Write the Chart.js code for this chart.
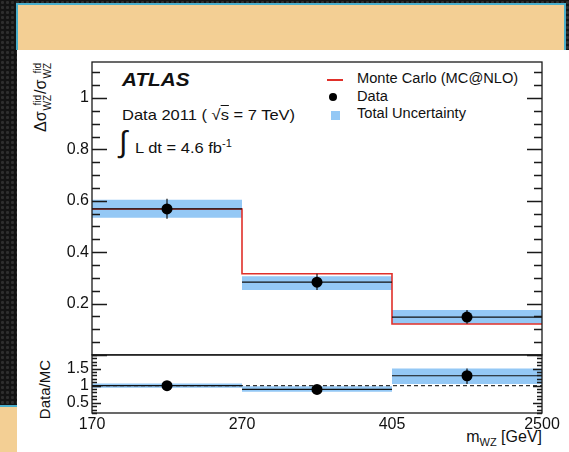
<!DOCTYPE html>
<html>
<head>
<meta charset="utf-8">
<script src="https://cdn.jsdelivr.net/npm/chart.js@4.4.1/dist/chart.umd.min.js"></script>
<style>
  html, body { margin: 0; padding: 0; }
  body {
    width: 569px; height: 452px; position: relative; overflow: hidden;
    background-color: #131313;
    background-image: radial-gradient(circle at 50% 50%, #2e2e2e 0 1.2px, transparent 1.9px);
    background-size: 5px 5px;
    font-family: 'Liberation Sans', Arial, sans-serif; color: #111;
  }
  .banner { position: absolute; left: 16px; top: 3px; width: 546px; height: 45px;
    background: #f3cf94; border: 2px solid #4aaecb; border-bottom: none; }
  .sheet { position: absolute; left: 17px; top: 50px; right: 0; bottom: 0; background: #fff; }
  .corner { position: absolute; left: 0; top: 405px; width: 17px; bottom: 0;
    background: #f3cf94; border-top: 2px solid #4aaecb; }
  #plot { position: absolute; left: 0; top: 0; }
  .txt { position: absolute; white-space: nowrap; line-height: 1; transform-origin: 0 50%; }
  .atlas { font-weight: bold; font-style: italic; font-size: 19px; left: 122px; top: 70px;
    transform: scaleX(1.09); }
  .info { font-size: 15px; transform: scaleX(1.1); }
  .rad { text-decoration: overline; }
  .integral { font-size: 30px; left: 119px; top: 127px; }
  sup { font-size: 10px; vertical-align: 6px; }
  .leg { font-size: 14px; left: 357px; transform: scaleX(1.045); }
  .sym { position: absolute; }
  .rot { position: absolute; white-space: nowrap; line-height: 1; transform-origin: 0 0;
    transform: rotate(-90deg); text-align: right; }
  .ss { display: inline-flex; flex-direction: column; font-size: 10px; line-height: 10px;
    vertical-align: 5px; margin: 0 1px; }
  .xtitle { font-size: 16px; right: 27px; top: 429px; }
  .xtitle sub { font-size: 11px; vertical-align: -4px; }
</style>
</head>
<body>
<div class="banner"></div>
<div class="sheet"></div>
<div class="corner"></div>

<div class="txt atlas">ATLAS</div>
<div class="txt info" style="left:122px; top:107px;">Data 2011 ( √<span class="rad">s</span> = 7 TeV)</div>
<div class="txt integral">∫</div>
<div class="txt info" style="left:135px; top:139px;">L dt = 4.6 fb<sup>-1</sup></div>

<div class="sym" style="left:327px; top:79px; width:16px; height:2px; background:#e0302a;"></div>
<div class="txt leg" style="top:71px;">Monte Carlo (MC@NLO)</div>
<div class="sym" style="left:329px; top:93px; width:8px; height:8px; border-radius:50%; background:#000;"></div>
<div class="txt leg" style="top:89px;">Data</div>
<div class="sym" style="left:331px; top:111px; width:9px; height:9px; background:#94c8f5;"></div>
<div class="txt leg" style="top:106px;">Total Uncertainty</div>

<div class="rot" style="left:33px; top:202px; width:140px; font-size:16px;">Δσ<span class="ss"><span>fid</span><span>WZ</span></span>/σ<span class="ss"><span>fid</span><span>WZ</span></span></div>
<div class="rot" style="left:37px; top:440px; width:80px; font-size:15px;">Data/MC</div>
<div class="txt xtitle">m<sub>WZ</sub> [GeV]</div>

<canvas id="plot" width="569" height="452"></canvas>

<script>
// bin edges of m_WZ and the normalised fiducial cross sections per bin
const binEdges = ['170', '270', '405', '2500'];
const mcXsec = [0.568, 0.316, 0.120];
const dataXsec = [0.568, 0.283, 0.147];
const dataErrLow = [0.530, 0.253, 0.121];
const dataErrHigh = [0.608, 0.316, 0.175];
const totUncLow = [0.534, 0.253, 0.121];
const totUncHigh = [0.604, 0.306, 0.175];

// data / MC ratio panel
const ratio = [1.00, 0.89, 1.29];
const ratioUncLow = [0.94, 0.82, 1.05];
const ratioUncHigh = [1.06, 0.98, 1.50];
const ratioRef = 1;

const nBins = binEdges.length - 1;
const bandColor = '#94c8f5';

// point builders for histogram-style drawing on the linear bin-index axis
const stepLine = vals => vals.map((v, i) => ({x: i, y: v})).concat([{x: nBins, y: vals[nBins - 1]}]);
const binLines = vals => vals.flatMap((v, i) => [{x: i, y: v}, {x: i + 1, y: v}, {x: i + 1, y: null}]);
const errBars = (lo, hi) => lo.flatMap((l, i) => [{x: i + 0.5, y: l}, {x: i + 0.5, y: hi[i]}, {x: i + 0.5, y: null}]);
const centres = vals => vals.map((v, i) => ({x: i + 0.5, y: v}));

function band(lo, hi, axis) {
  return [
    {data: stepLine(hi), yAxisID: axis, showLine: true, stepped: 'before', fill: '+1',
     backgroundColor: bandColor, borderWidth: 0, pointRadius: 0, order: 10},
    {data: stepLine(lo), yAxisID: axis, showLine: true, stepped: 'before', fill: false,
     borderWidth: 0, pointRadius: 0, order: 10}
  ];
}

function points(vals, lo, hi, axis) {
  return [
    {data: binLines(vals), yAxisID: axis, showLine: true, borderColor: '#111', borderWidth: 1.2,
     pointRadius: 0, spanGaps: false, order: 3},
    {data: errBars(lo, hi), yAxisID: axis, showLine: true, borderColor: '#111', borderWidth: 1.2,
     pointRadius: 0, spanGaps: false, order: 2},
    {data: centres(vals), yAxisID: axis, showLine: false, pointRadius: 5.5,
     pointBackgroundColor: '#000', pointBorderWidth: 0, order: 1}
  ];
}

const datasets = [
  ...band(totUncLow, totUncHigh, 'y'),
  {data: stepLine(mcXsec), yAxisID: 'y', showLine: true, stepped: 'before', borderColor: '#e0302a',
   borderWidth: 1.6, pointRadius: 0, order: 5},
  ...points(dataXsec, dataErrLow, dataErrHigh, 'y'),
  ...band(ratioUncLow, ratioUncHigh, 'yr'),
  {data: [{x: 0, y: ratioRef}, {x: nBins, y: ratioRef}], yAxisID: 'yr', showLine: true,
   borderColor: '#333', borderWidth: 1.2, borderDash: [4, 3], pointRadius: 0, order: 6},
  ...points(ratio, ratioUncLow, ratioUncHigh, 'yr')
];

// ROOT-style frame with inward major/minor ticks on both sides
const panelTicks = [
  {id: 'y', minor: 0.05, major: 0.2, majorLen: 15, minorLen: 8},
  {id: 'yr', minor: 0.1, major: 0.5, majorLen: 9, minorLen: 5}
];
const frameTicks = {
  id: 'frameTicks',
  afterDatasetsDraw(chart) {
    const {ctx, chartArea} = chart;
    const {left, right} = chartArea;
    ctx.save();
    ctx.strokeStyle = '#1a1a1a';
    ctx.lineWidth = 1.3;
    panelTicks.forEach(p => {
      const s = chart.scales[p.id];
      ctx.strokeRect(left, s.top, right - left, s.bottom - s.top);
      ctx.beginPath();
      for (let k = Math.ceil(s.min / p.minor - 1e-6); k * p.minor <= s.max + 1e-9; k++) {
        const v = k * p.minor;
        const y = Math.round(s.getPixelForValue(v)) + 0.5;
        const r = v / p.major;
        const len = Math.abs(r - Math.round(r)) < 1e-6 ? p.majorLen : p.minorLen;
        ctx.moveTo(left, y); ctx.lineTo(left + len, y);
        ctx.moveTo(right, y); ctx.lineTo(right - len, y);
      }
      ctx.stroke();
    });
    ctx.restore();
  }
};

const fmt = v => String(+v.toFixed(2));
const tickFont = {family: "'Liberation Sans', Arial, sans-serif", size: 16};

new Chart(document.getElementById('plot'), {
  type: 'scatter',
  data: {datasets},
  options: {
    responsive: false,
    animation: false,
    events: [],
    layout: {padding: {left: 0, top: 62, right: 27, bottom: 15}},
    plugins: {legend: {display: false}, tooltip: {enabled: false}},
    scales: {
      x: {
        type: 'linear', min: 0, max: nBins,
        grid: {display: false, drawTicks: false}, border: {display: false},
        ticks: {stepSize: 1, maxRotation: 0, autoSkip: false, padding: 2, color: '#111', font: tickFont,
                callback: v => binEdges[v]},
        afterFit: s => { s.height = 24; }
      },
      yr: {
        type: 'linear', position: 'left', stack: 'panels', stackWeight: 1,
        min: 0.2, max: 1.9,
        grid: {display: false, drawTicks: false}, border: {display: false},
        ticks: {stepSize: 0.5, includeBounds: false, autoSkip: false, padding: 3, color: '#111',
                font: tickFont, callback: v => fmt(v)},
        afterFit: s => { s.width = 92; }
      },
      y: {
        type: 'linear', position: 'left', stack: 'panels', stackWeight: 5.04,
        min: 0, max: 1.14,
        grid: {display: false, drawTicks: false}, border: {display: false},
        ticks: {stepSize: 0.2, includeBounds: false, autoSkip: false, padding: 3, color: '#111',
                font: tickFont, callback: v => v === 0 ? '' : fmt(v)},
        afterFit: s => { s.width = 92; }
      }
    }
  },
  plugins: [frameTicks]
});
</script>
</body>
</html>
